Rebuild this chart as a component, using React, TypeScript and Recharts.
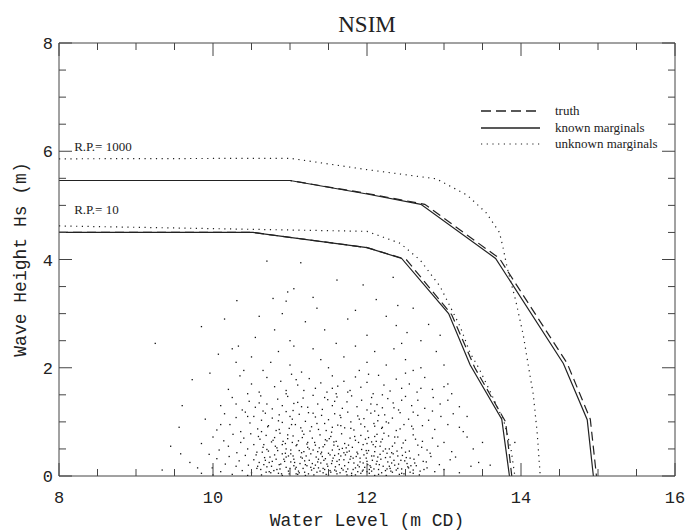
import React from 'react';
import { ComposedChart, XAxis, YAxis, Line, Scatter, Legend, ReferenceDot, ReferenceLine } from 'recharts';

// ---------- axis ticks ----------
const xTicks = [8, 8.5, 9, 9.5, 10, 10.5, 11, 11.5, 12, 12.5, 13, 13.5, 14, 14.5, 15, 15.5, 16];
const yTicks = [0, 0.5, 1, 1.5, 2, 2.5, 3, 3.5, 4, 4.5, 5, 5.5, 6, 6.5, 7, 7.5, 8];
const xLabels = [8, 10, 12, 14, 16];
const yLabels = [0, 2, 4, 6, 8];

// ---------- contour lines [water level, Hs] ----------
const knownRP1000: [number, number][] = [[8, 5.46], [11.0, 5.46], [12.0, 5.21], [12.7, 5.02], [13.67, 4.02], [14.55, 2.08], [14.86, 1.04], [14.94, 0]];
const truthRP1000: [number, number][] = [[8, 5.46], [11.0, 5.46], [12.0, 5.22], [12.75, 5.02], [13.72, 4.02], [14.6, 2.08], [14.9, 1.05], [14.98, 0]];
const unknownRP1000: [number, number][] = [[8, 5.86], [11.0, 5.87], [12.0, 5.66], [12.9, 5.49], [13.3, 5.19], [13.55, 4.86], [13.72, 4.5], [13.77, 4.2], [13.82, 3.85], [13.93, 3.25], [14.03, 2.6], [14.1, 2.0], [14.16, 1.5], [14.21, 0.8], [14.25, 0]];
const knownRP10: [number, number][] = [[8, 4.5], [10.52, 4.5], [12.0, 4.22], [12.45, 4.02], [13.06, 3.0], [13.34, 2.05], [13.75, 1.05], [13.85, 0]];
const truthRP10: [number, number][] = [[8, 4.5], [10.52, 4.5], [12.0, 4.22], [12.51, 4.0], [13.1, 2.98], [13.4, 2.0], [13.8, 1.0], [13.88, 0]];
const unknownRP10: [number, number][] = [[8, 4.62], [12.0, 4.52], [12.43, 4.3], [12.69, 3.99], [12.95, 3.5], [13.08, 3.13], [13.21, 2.76], [13.34, 2.27], [13.45, 2.0], [13.62, 1.5], [13.78, 1.0], [13.87, 0.5], [13.92, 0]];

// ---------- simulated sample (water level, Hs) ----------
const samples: [number, number][] = [
  [10.70, 3.97], [11.14, 3.94], [11.61, 3.62], [11.95, 3.53], [12.34, 3.67], [10.97, 3.40], [11.05, 3.46], [10.31, 3.24], [10.78, 3.28], [10.95, 3.23], [12.12, 3.26], [11.85, 3.06], [12.6, 3.1], [11.3, 3.3],
  [9.85, 2.76], [9.25, 2.45], [10.55, 2.56], [10.33, 2.40], [12.38, 2.78], [12.52, 2.65], [10.6, 2.95], [10.9, 3.0], [11.2, 2.85], [11.45, 2.7], [11.75, 2.9], [12.0, 2.6], [12.25, 2.95], [10.15, 2.9], [11.0, 2.5], [11.6, 2.45], [12.7, 2.5], [12.8, 2.8], [10.8, 2.7], [11.35, 3.1], [12.45, 2.45],
  [10.07, 2.25], [9.96, 1.90], [10.3, 2.1], [10.5, 2.2], [10.65, 1.95], [10.85, 2.3], [11.0, 2.05], [11.15, 1.92], [11.3, 2.35], [11.5, 2.0], [11.7, 2.2], [11.9, 1.95], [12.1, 2.3], [12.25, 2.05], [12.5, 2.15], [12.7, 2.0], [12.9, 2.3], [10.4, 1.95], [11.4, 2.15], [11.85, 2.4], [12.35, 2.35], [12.6, 1.95], [11.05, 2.4], [10.75, 2.1], [12.0, 2.1], [13.0, 2.05],
  [9.73, 1.78], [10.2, 1.6], [10.35, 1.85], [10.5, 1.7], [10.6, 1.55], [10.7, 1.82], [10.8, 1.65], [10.88, 1.75], [10.95, 1.52], [11.02, 1.88], [11.1, 1.68], [11.18, 1.58], [11.25, 1.8], [11.33, 1.62], [11.4, 1.72], [11.48, 1.55], [11.55, 1.85], [11.62, 1.66], [11.7, 1.75], [11.78, 1.58], [11.85, 1.83], [11.92, 1.64], [12.0, 1.73], [12.08, 1.52], [12.15, 1.86], [12.22, 1.68], [12.3, 1.57], [12.38, 1.79], [12.45, 1.62], [12.55, 1.7], [12.65, 1.55], [12.75, 1.82], [12.85, 1.6], [13.0, 1.65], [13.1, 1.52], [10.45, 1.52], [11.08, 1.78], [11.6, 1.52], [12.02, 1.88], [12.5, 1.9],
  [10.1, 1.3], [10.25, 1.45], [10.38, 1.22], [10.47, 1.38], [10.55, 1.27], [10.62, 1.48], [10.7, 1.33], [10.77, 1.24], [10.84, 1.42], [10.9, 1.3], [10.97, 1.47], [11.04, 1.21], [11.1, 1.36], [11.17, 1.44], [11.23, 1.27], [11.3, 1.49], [11.36, 1.33], [11.42, 1.23], [11.49, 1.41], [11.55, 1.3], [11.61, 1.46], [11.68, 1.25], [11.74, 1.37], [11.8, 1.48], [11.87, 1.28], [11.93, 1.4], [12.0, 1.22], [12.06, 1.45], [12.13, 1.32], [12.2, 1.26], [12.27, 1.43], [12.34, 1.35], [12.41, 1.22], [12.5, 1.47], [12.58, 1.3], [12.66, 1.4], [12.75, 1.25], [12.86, 1.45], [12.95, 1.33], [13.05, 1.4], [13.2, 1.28], [10.3, 1.33], [11.58, 1.38], [12.1, 1.2], [10.65, 1.2],
  [9.56, 0.9], [9.9, 1.05], [10.05, 0.85], [10.15, 1.15], [10.22, 0.95], [10.3, 1.08], [10.36, 0.82], [10.42, 1.18], [10.48, 0.98], [10.53, 1.1], [10.58, 0.87], [10.63, 1.03], [10.68, 1.16], [10.72, 0.93], [10.77, 1.07], [10.82, 0.84], [10.86, 1.13], [10.9, 0.99], [10.95, 1.19], [10.99, 0.88], [11.03, 1.05], [11.07, 0.95], [11.12, 1.14], [11.16, 0.83], [11.2, 1.01], [11.24, 1.17], [11.28, 0.91], [11.33, 1.09], [11.37, 0.86], [11.41, 1.12], [11.45, 0.97], [11.5, 1.04], [11.54, 0.81], [11.58, 1.15], [11.62, 0.94], [11.66, 1.08], [11.71, 0.89], [11.75, 1.18], [11.79, 1.0], [11.83, 0.85], [11.88, 1.11], [11.92, 0.96], [11.96, 1.06], [12.01, 0.83], [12.05, 1.16], [12.1, 0.92], [12.14, 1.02], [12.19, 0.88], [12.23, 1.13], [12.28, 0.98], [12.33, 1.07], [12.38, 0.84], [12.43, 1.17], [12.48, 0.95], [12.54, 1.05], [12.6, 0.87], [12.66, 1.12], [12.72, 0.93], [12.8, 1.03], [12.88, 0.86], [12.96, 1.1], [13.05, 0.95], [13.2, 0.9], [13.12, 1.15], [11.0, 1.1], [11.55, 0.9], [12.25, 1.0],
  [9.58, 0.41], [9.85, 0.6], [10.0, 0.72], [10.08, 0.48], [10.14, 0.65], [10.2, 0.55], [10.26, 0.77], [10.31, 0.43], [10.36, 0.62], [10.4, 0.7], [10.45, 0.5], [10.49, 0.78], [10.53, 0.58], [10.57, 0.44], [10.61, 0.68], [10.65, 0.53], [10.69, 0.75], [10.72, 0.46], [10.76, 0.63], [10.8, 0.71], [10.83, 0.52], [10.87, 0.79], [10.9, 0.41], [10.94, 0.6], [10.97, 0.69], [11.01, 0.48], [11.04, 0.74], [11.08, 0.56], [11.11, 0.65], [11.15, 0.43], [11.18, 0.77], [11.22, 0.59], [11.25, 0.5], [11.29, 0.7], [11.32, 0.62], [11.36, 0.45], [11.39, 0.76], [11.43, 0.54], [11.46, 0.67], [11.5, 0.42], [11.53, 0.73], [11.57, 0.57], [11.6, 0.64], [11.64, 0.49], [11.67, 0.78], [11.71, 0.6], [11.74, 0.44], [11.78, 0.7], [11.81, 0.53], [11.85, 0.66], [11.88, 0.41], [11.92, 0.75], [11.95, 0.58], [11.99, 0.47], [12.02, 0.71], [12.06, 0.63], [12.1, 0.45], [12.13, 0.77], [12.17, 0.55], [12.2, 0.68], [12.24, 0.5], [12.28, 0.74], [12.32, 0.43], [12.36, 0.61], [12.4, 0.72], [12.45, 0.52], [12.5, 0.66], [12.55, 0.46], [12.6, 0.76], [12.66, 0.57], [12.72, 0.64], [12.78, 0.48], [12.85, 0.7], [12.92, 0.55], [13.0, 0.62], [13.1, 0.45], [13.38, 0.5], [13.5, 0.62], [13.3, 0.72], [10.95, 0.5], [11.45, 0.58], [12.0, 0.6], [13.92, 0.62],
  [9.34, 0.11], [9.7, 0.25], [9.85, 0.05], [9.99, 0.15], [10.05, 0.32], [10.1, 0.08], [10.16, 0.22], [10.21, 0.36], [10.25, 0.03], [10.3, 0.18], [10.34, 0.28], [10.38, 0.1], [10.42, 0.38], [10.46, 0.2], [10.5, 0.06], [10.53, 0.3], [10.57, 0.14], [10.6, 0.25], [10.63, 0.02], [10.67, 0.34], [10.7, 0.17], [10.73, 0.08], [10.77, 0.27], [10.8, 0.39], [10.83, 0.12], [10.86, 0.21], [10.89, 0.04], [10.92, 0.31], [10.95, 0.16], [10.98, 0.09], [11.01, 0.26], [11.04, 0.37], [11.07, 0.13], [11.1, 0.03], [11.13, 0.23], [11.16, 0.33], [11.19, 0.07], [11.22, 0.19], [11.25, 0.29], [11.28, 0.11], [11.31, 0.02], [11.34, 0.35], [11.37, 0.15], [11.4, 0.24], [11.43, 0.06], [11.46, 0.32], [11.49, 0.18], [11.52, 0.1], [11.55, 0.28], [11.58, 0.38], [11.61, 0.04], [11.64, 0.21], [11.67, 0.14], [11.7, 0.3], [11.73, 0.08], [11.76, 0.25], [11.79, 0.36], [11.82, 0.12], [11.85, 0.02], [11.88, 0.2], [11.91, 0.33], [11.94, 0.09], [11.97, 0.16], [12.0, 0.27], [12.03, 0.05], [12.06, 0.37], [12.09, 0.13], [12.12, 0.22], [12.15, 0.03], [12.18, 0.31], [12.21, 0.18], [12.24, 0.1], [12.27, 0.26], [12.3, 0.35], [12.33, 0.07], [12.36, 0.2], [12.4, 0.14], [12.44, 0.29], [12.48, 0.04], [12.52, 0.23], [12.56, 0.33], [12.6, 0.11], [12.64, 0.19], [12.68, 0.02], [12.73, 0.27], [12.78, 0.15], [12.83, 0.36], [12.88, 0.08], [12.94, 0.21], [13.0, 0.12], [13.08, 0.3], [13.2, 0.06], [13.35, 0.18], [11.2, 0.01], [11.5, 0.02], [11.8, 0.01], [12.1, 0.01], [10.9, 0.01], [11.65, 0.06], [11.35, 0.07], [12.0, 0.08], [10.75, 0.06], [12.45, 0.13], [11.05, 0.19], [11.95, 0.24], [12.25, 0.01], [10.45, 0.01], [10.0, 0.02],
  [10.62, 0.12], [11.87, 0.44], [12.31, 0.09], [11.09, 0.58], [10.93, 0.27], [11.71, 0.19], [12.47, 0.61], [11.26, 0.83], [10.84, 0.47], [12.14, 0.35], [11.53, 0.07], [11.98, 0.68], [10.71, 0.91], [12.62, 0.24], [11.38, 0.52], [12.05, 0.16], [11.16, 0.71], [10.56, 0.39], [11.79, 0.88], [12.39, 0.46], [11.44, 0.29], [10.99, 0.04], [12.22, 0.79], [11.63, 0.41], [10.78, 0.66], [12.71, 0.53], [11.31, 0.14], [11.91, 0.26], [12.56, 0.07], [11.02, 0.95], [10.66, 0.58], [12.09, 0.97], [11.57, 0.63], [11.21, 0.37], [12.43, 0.87], [10.88, 0.22], [11.68, 0.51], [12.26, 0.42], [11.12, 0.06], [11.84, 0.73], [10.74, 0.35], [12.51, 0.34], [11.47, 0.84], [12.02, 0.47], [11.35, 0.97], [10.97, 0.76], [12.67, 0.39], [11.74, 0.02], [12.18, 0.63], [11.05, 0.31],
  [11.59, 0.17], [10.81, 0.55], [12.36, 0.72], [11.23, 0.62], [11.95, 0.11], [12.58, 0.92], [10.68, 0.29], [11.41, 0.44], [12.11, 0.54], [11.66, 0.93], [10.91, 0.64], [12.29, 0.18], [11.18, 0.45], [11.82, 0.33], [12.45, 0.05], [10.59, 0.73], [11.51, 0.69], [12.07, 0.29], [11.29, 0.23], [12.74, 0.12], [11.01, 0.41], [11.76, 0.57], [12.2, 0.9], [10.79, 0.1], [11.43, 0.14], [12.63, 0.68], [11.14, 0.89], [11.89, 0.62], [12.33, 0.55], [10.86, 0.86], [11.61, 0.27], [12.0, 0.42], [11.33, 0.57], [12.49, 0.28], [10.7, 0.49], [11.97, 0.91], [11.08, 0.16], [12.15, 0.12], [11.55, 0.48], [12.82, 0.42], [10.63, 0.82], [11.37, 0.31], [11.85, 0.15], [12.4, 0.37], [11.19, 0.28], [11.72, 0.39], [12.57, 0.19], [10.95, 0.35], [12.1, 0.73], [11.48, 0.22],
  [11.15, 1.28], [11.65, 1.12], [12.35, 1.26], [10.85, 1.02], [12.05, 1.33], [11.45, 1.45], [12.6, 1.18], [10.6, 1.35], [11.9, 1.05], [12.2, 1.5], [11.3, 1.16], [10.95, 1.58], [12.45, 1.4], [11.75, 1.55], [12.85, 1.2], [10.45, 1.1], [11.55, 1.62], [12.7, 1.62], [11.05, 1.34], [12.15, 1.12],
  [13.15, 0.35], [13.25, 0.82], [13.45, 0.25], [9.45, 0.55], [9.95, 0.4], [10.1, 0.95], [13.05, 1.7], [10.25, 2.35], [12.95, 2.6], [12.4, 3.15], [9.6, 1.3], [13.3, 1.1], [13.6, 0.2], [9.8, 0.15],
  [11.11, 0.09], [11.42, 0.36], [11.69, 0.11], [11.93, 0.49], [12.19, 0.06], [12.41, 0.22], [10.87, 0.13], [11.27, 0.41], [11.56, 0.33], [11.83, 0.24], [12.08, 0.58], [12.35, 0.29], [10.64, 0.44], [11.06, 0.25], [11.39, 0.09], [11.62, 0.55], [11.92, 0.05], [12.17, 0.4], [12.54, 0.15], [10.76, 0.18], [11.17, 0.14], [11.48, 0.65], [11.77, 0.46], [12.04, 0.19], [12.29, 0.5], [12.61, 0.31], [10.94, 0.42], [11.24, 0.04], [11.54, 0.23], [11.86, 0.36], [12.13, 0.27], [12.38, 0.11], [10.69, 0.07], [11.03, 0.62], [11.33, 0.2], [11.66, 0.37], [11.99, 0.33], [12.26, 0.13], [12.5, 0.44], [10.82, 0.31], [11.12, 0.47], [11.45, 0.12], [11.73, 0.52], [12.03, 0.12], [12.32, 0.24], [12.69, 0.09], [10.58, 0.18], [10.98, 0.37], [11.3, 0.48], [11.6, 0.09], [11.9, 0.17], [12.21, 0.46], [12.46, 0.38], [10.9, 0.58], [11.2, 0.21], [11.52, 0.39], [11.8, 0.05], [12.12, 0.64], [12.42, 0.03], [12.77, 0.26], [11.0, 0.14], [11.36, 0.26], [11.7, 0.43], [12.06, 0.09], [12.34, 0.41], [10.73, 0.25], [11.14, 0.35], [11.47, 0.03], [11.78, 0.31], [12.16, 0.21], [12.53, 0.17], [10.85, 0.05], [11.27, 0.16], [11.58, 0.11], [11.96, 0.39], [12.24, 0.34], [10.66, 0.21], [11.08, 0.04], [11.4, 0.41], [11.75, 0.13], [12.01, 0.21], [12.3, 0.14], [12.6, 0.05], [11.23, 0.53], [11.64, 0.3], [11.88, 0.08], [12.09, 0.37],
];

const rpLabels = [
  { x: 8.21, y: 6.06, text: 'R.P.= 1000' },
  { x: 8.21, y: 4.9, text: 'R.P.= 10' },
];

const toXY = (arr: [number, number][]) => arr.map(([x, y]) => ({ x, y }));

// layout constants (page pixels)
const PLOT_LEFT = 59;
const PLOT_RIGHT = 675;
const PLOT_TOP = 43;
const PLOT_BOTTOM = 476;

const INK = '#222';
const AXIS = '#444';
const MONO = '"Liberation Mono", "DejaVu Sans Mono", monospace';
const SERIF = '"Liberation Serif", "DejaVu Serif", serif';

const BottomTick = (props: any) => {
  const { x, payload } = props;
  const major = xLabels.includes(payload.value);
  const len = major ? 13 : 7;
  return (
    <g>
      <line x1={x} y1={PLOT_BOTTOM} x2={x} y2={PLOT_BOTTOM - len} stroke={AXIS} strokeWidth={1} />
      <line x1={x} y1={PLOT_TOP} x2={x} y2={PLOT_TOP + len} stroke={AXIS} strokeWidth={1} />
      {major && (
        <text x={x} y={PLOT_BOTTOM + 27} textAnchor="middle" fontFamily={MONO} fontSize={17} fill={INK}>
          {payload.value}
        </text>
      )}
    </g>
  );
};

const LeftTick = (props: any) => {
  const { y, payload } = props;
  const major = yLabels.includes(payload.value);
  const len = major ? 13 : 7;
  return (
    <g>
      <line x1={PLOT_LEFT} y1={y} x2={PLOT_LEFT + len} y2={y} stroke={AXIS} strokeWidth={1} />
      <line x1={PLOT_RIGHT} y1={y} x2={PLOT_RIGHT - len} y2={y} stroke={AXIS} strokeWidth={1} />
      {major && (
        <text x={PLOT_LEFT - 6} y={y + 6} textAnchor="end" fontFamily={MONO} fontSize={17} fill={INK}>
          {payload.value}
        </text>
      )}
    </g>
  );
};

const SampleDot = (props: any) => {
  const { cx, cy } = props;
  if (cx == null || cy == null) return <g />;
  return <rect x={cx - 0.65} y={cy - 0.65} width={1.3} height={1.3} fill="#111" />;
};

const XTitle = () => (
  <text x={(PLOT_LEFT + PLOT_RIGHT) / 2} y={526} textAnchor="middle" fontFamily={MONO} fontSize={18} fill={INK}>
    Water Level (m CD)
  </text>
);

const YTitle = () => {
  const cy = (PLOT_TOP + PLOT_BOTTOM) / 2;
  return (
    <text x={21} y={cy} transform={`rotate(-90, 21, ${cy})`} textAnchor="middle" dominantBaseline="central" fontFamily={MONO} fontSize={18} fill={INK}>
      Wave Height Hs (m)
    </text>
  );
};

const MainTitle = () => (
  <text x={(PLOT_LEFT + PLOT_RIGHT) / 2} y={32} textAnchor="middle" fontFamily={SERIF} fontSize={23} fill={INK}>
    NSIM
  </text>
);

const makeRpLabel = (text: string) => (props: any) => {
  const vb = props.viewBox || {};
  return (
    <text x={vb.x} y={vb.y + 4} textAnchor="start" fontFamily={SERIF} fontSize={13} fill={INK}>
      {text}
    </text>
  );
};

const LegendBox = () => (
  <svg width={200} height={56} style={{ display: 'block' }}>
    <line x1={3} y1={11} x2={62} y2={11} stroke={INK} strokeWidth={1.3} strokeDasharray="10 5" />
    <text x={77} y={15} fontFamily={SERIF} fontSize={13} fill={INK}>truth</text>
    <line x1={3} y1={28} x2={62} y2={28} stroke={INK} strokeWidth={1.3} />
    <text x={77} y={32} fontFamily={SERIF} fontSize={13} fill={INK}>known marginals</text>
    <line x1={3} y1={44} x2={62} y2={44} stroke={INK} strokeWidth={1.2} strokeDasharray="1.2 4.5" />
    <text x={77} y={48} fontFamily={SERIF} fontSize={13} fill={INK}>unknown marginals</text>
  </svg>
);

const lineSeries = [
  { key: 'k1000', data: knownRP1000, dash: undefined as string | undefined },
  { key: 't1000', data: truthRP1000, dash: '9 5' },
  { key: 'u1000', data: unknownRP1000, dash: '1.2 4.5' },
  { key: 'k10', data: knownRP10, dash: undefined as string | undefined },
  { key: 't10', data: truthRP10, dash: '9 5' },
  { key: 'u10', data: unknownRP10, dash: '1.2 4.5' },
];

export default function App() {
  return (
    <div style={{ position: 'absolute', left: 0, top: 0, background: '#fff' }}>
      <ComposedChart width={687} height={531} margin={{ top: PLOT_TOP, right: 687 - PLOT_RIGHT, bottom: 0, left: 0 }}>
        <XAxis
          dataKey="x"
          type="number"
          domain={[8, 16]}
          ticks={xTicks}
          interval={0}
          tickLine={false}
          tickSize={0}
          tickMargin={0}
          tick={BottomTick}
          axisLine={{ stroke: AXIS, strokeWidth: 1 }}
          height={531 - PLOT_BOTTOM}
          allowDataOverflow
          label={<XTitle />}
        />
        <YAxis
          dataKey="y"
          type="number"
          domain={[0, 8]}
          ticks={yTicks}
          interval={0}
          tickLine={false}
          tickSize={0}
          tickMargin={0}
          tick={LeftTick}
          axisLine={{ stroke: AXIS, strokeWidth: 1 }}
          width={PLOT_LEFT}
          allowDataOverflow
          label={<YTitle />}
        />
        <ReferenceLine y={8} stroke={AXIS} strokeWidth={1} ifOverflow="visible" label={<MainTitle />} />
        <ReferenceLine x={16} stroke={AXIS} strokeWidth={1} ifOverflow="visible" />
        <Scatter
          data={toXY(samples)}
          dataKey="y"
          shape={<SampleDot />}
          isAnimationActive={false}
          legendType="none"
        />
        {lineSeries.map((s) => (
          <Line
            key={s.key}
            data={toXY(s.data)}
            dataKey="y"
            type="linear"
            stroke={INK}
            strokeWidth={1.2}
            strokeDasharray={s.dash}
            dot={false}
            activeDot={false}
            isAnimationActive={false}
            legendType="none"
          />
        ))}
        {rpLabels.map((r) => (
          <ReferenceDot
            key={r.text}
            x={r.x}
            y={r.y}
            r={1}
            fill="none"
            stroke="none"
            label={makeRpLabel(r.text)}
          />
        ))}
        <Legend
          layout="horizontal"
          verticalAlign="middle"
          align="center"
          content={<LegendBox />}
          wrapperStyle={{ position: 'absolute', left: 478, top: 100, width: 200, height: 56 }}
        />
      </ComposedChart>
    </div>
  );
}
